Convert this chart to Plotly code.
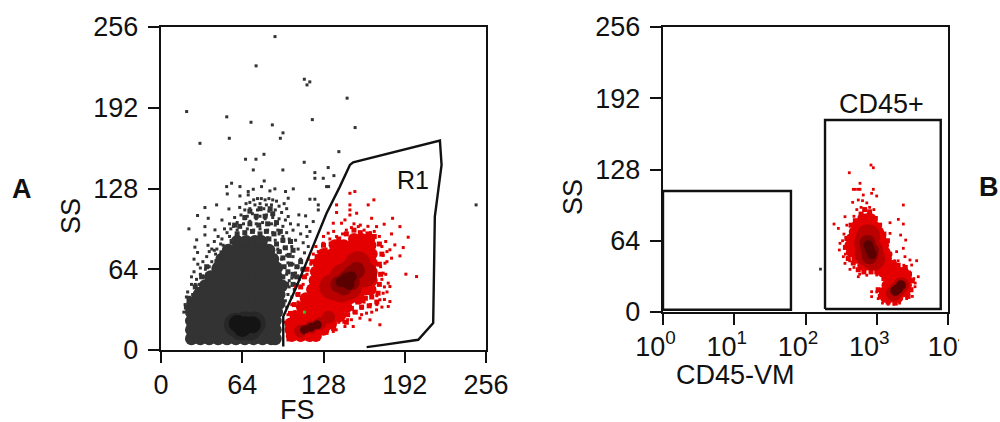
import plotly.graph_objects as go

# ---------- Panel A (FS / SS, linear 0-256) ----------
gray_rows = [
 (9,[24,31,38,45,52,59,66,73,80,87,90]),
 (16,[24,31,38,45,52,59,66,73,80,87,90]),
 (23,[24,31,38,45,52,59,66,73,80,87,90]),
 (30,[24,31,38,45,52,59,66,73,80,87,91]),
 (37,[25,32,39,46,53,60,67,74,81,88,93]),
 (44,[30,37,44,51,58,65,72,79,86,93]),
 (51,[35,42,49,56,63,70,77,84,91,95]),
 (58,[39,46,53,60,67,74,81,88,91]),
 (65,[45,52,59,66,73,80,87,91]),
 (72,[48,55,62,69,76,83,88]),
 (79,[53,60,67,74,81,85]),
 (86,[60,67,74,79]),
]
gray_edge = [
 (96,58),(100,62),(104,60),(97,66),(102,68),(107,66),(96,73),(101,75),(93,78),(98,81),(104,79),(91,84),(96,87),
 (102,86),(85,88),(89,92),(94,94),(83,94),(78,92),(72,94),(66,93),(60,92),(56,86),(54,80),(62,98),(70,100),(77,99),
 (84,100),(91,101),(58,99),(66,105),(75,106),(82,106),(88,108),(48,77),(44,70),(42,64),(40,60),(36,66),(32,58),
 (34,52),(30,48),(27,50),(26,43),(22,41),(20,34),(107,58),(110,70),(112,64),(99,52),(104,52),(86,112),(78,112),(70,110),
]
gray_halo = [(59,20),(66,21),(73,21),(63,17),(70,17)]
gray_core = [(60,21),(66,20),(72,20),(64,17)]
gray_sparse = [
 (89.8,248.4),(74.9,225.2),(112.9,214.6),(117.2,212.5),(115,210.1),(146.6,199.6),(20.2,189),
 (51.8,184.8),(70.9,180.5),(87.7,178.4),(119.2,182.6),(152.9,176.3),(96.1,172.1),(53.8,167.8),
 (94,167.8),(30.7,163.8),(81.1,155.1),(66.6,151.2),(74.8,151.2),(140.1,157.2),(112.8,148.8),
 (72.7,142.7),(96,142.7),(131.7,144.6),(121.2,140.6),(121.2,136.1),(127.8,136.1),(136.2,138.2),
 (81.3,134),(55.6,132.2),(51.7,129.5),(62.2,129.5),(52.2,123.7),(68.7,125.6),(72.7,127.4),
 (79.2,129.5),(85.8,126.1),(89.7,127.7),(98.1,125.6),(104.2,127.7),(130.4,129.5),(132,129.5),
 (117.3,119.5),(121.2,119.5),(62.2,122.1),(68.7,122.9),(43.8,115),(34.6,112.9),(53.5,111.8),
 (28.8,106.6),(37.2,104.4),(22,96),(34.6,97.8),(28.1,87.3),(26.7,81.5),(28.8,77.3),(34.6,91.2),
 (42.5,95.2),(123.9,115),(123.9,111),(108.6,107.1),(113.9,106.3),(100.2,120.3),(119.9,101.8),
 (114.7,97.8),(117.3,93.9),(108.1,99.2),(100.2,105.8),(248.2,115),
 (73,119),(76,120),(79,120),(82,119),(85,120),(88,119),(91,118),(70,117),(67,116),(74,115),
 (78,116),(83,115),(87,115),(93,114),(97,116),(62,113),(66,111),(70,112),(76,111),(81,112),
 (85,110),(90,111),(95,109),(99,112),(63,107),(68,106),(72,108),(78,106),(83,107),(88,105),
 (93,104),(98,103),(58,105),(48,103),(54,100),(60,101),(65,100),(70,102),(75,100),(80,101),
 (85,100),(90,99),(96,98),(102,100),(50,96),(55,96),(60,95),(68,96),(73,95),(78,96),(84,95),
 (88,93),(93,92),(99,93),(104,95),(110,92),(115,90),(45,90),(42,86),(48,88),(54,90),(84,89),
 (90,87),(96,86),(101,88),(106,87),(112,85),(116,82),(37,83),(44,80),(49,83),(92,80),(97,81),
 (103,82),(108,80),(113,77),(36,74),(40,70),(43,76),(47,72),(99,75),(104,74),(110,72),(104,68),
 (108,66),(100,69),(111,64),(106,61),(103,57),(109,56),(26,72),(29,68),(35,64),(31,60),(26,62),
 (38,66),(28,56),(24,52),(21,46),(25,44),(20,42),(22,38),(30,52),(33,46),(28,47),(34,58),
 (101,50),(105,48),(100,44),(103,42),(98,39),(99,34),(19,36),(18,30),(41,64),(106,52),
 (40,80),(38,78),(33,70),(31,65),(24,58),(27,52),(95,72),(97,66),(99,60),(101,55),(94,78),
 (96,90),(92,95),(87,100),(82,104),(75,104),(66,104),(57,98),(52,93),(47,84),(42,79),(105,58),
]

red_rows = [
 (11,[103,110,117,122]),
 (16,[102,109,116,123,128]),
 (21,[102,109,116,123,130,134]),
 (27,[106,113,120,127,134,141]),
 (34,[111,118,125,132,139,146]),
 (41,[114,121,128,135,142,149,156]),
 (48,[119,126,133,140,147,154,161,165]),
 (55,[121,128,135,142,149,156,163,166]),
 (62,[122,129,136,143,150,157,164,166]),
 (69,[124,131,138,145,152,159,166]),
 (76,[128,135,142,149,156,163,166]),
 (83,[137,144,151,158,165]),
 (88,[152,158,164]),
]
red_edge = [
 (146,92),(152,95),(157,93),(163,92),(168,90),(140,88),(134,84),(128,83),(123,74),(119,70),(115,64),(113,58),
 (110,50),(108,44),(105,36),(102,29),(150,33),(155,38),(161,41),(166,42),(171,45),(172,52),(173,60),(172,68),
 (174,76),(172,84),(147,28),(153,30),(140,24),(146,22),(136,17),(130,14),(124,12),(158,34),(164,35),(170,38),
]
red_halo = [(143,58),(155,68),(135,50),(160,60),(148,50),(150,62),(142,48)]
red_inner = [(146,56),(150,60),(140,52),(154,63),(144,50),(150,54)]
red_core = [(146,57),(150,58),(142,54),(148,52)]
red_tail_mid = [(110,15),(118,18),(125,21),(132,26)]
red_tail_core = [(113,16),(118,18),(123,20)]
red_sparse = [
 (148.8,124.2),(152.7,125.6),(167.7,119),(163.2,115),(138.3,115),(138.3,109),(148.8,115),(148.8,111),
 (148.8,107),(154.1,108.4),(182.4,104.4),(165.9,104.4),(175.8,99.7),(188.2,97.8),(144.9,103.1),
 (135.7,100.5),(142.2,100.5),(155.4,97.8),(169.8,97.8),(181.6,92),(194.7,89.4),(184.2,83.3),
 (190.8,81.2),(180.3,79.4),(188.2,74.6),(181.6,72.8),(192.9,60.1),(201.3,58.2),(176.4,68.8),
 (131.7,92.6),(138.3,89.9),(127.8,84.6),(123.9,78),(175,60.9),(179,53),(180.3,50.3),(180.3,38.4),
 (179,34.5),(172.4,39.8),(169.8,31.8),(161.9,29.2),(164.6,23.9),(172.4,20),(151.4,18.6),(156.7,25.2),
 (144.9,18.6),(135.7,14.7),(106.8,9.4),(114.7,12),(125.2,13.4),(175,45),(140,22),(147,24),(152,30),
 (158,33),(165,36),(170,43),(176,50),(174,56),(173,66),(175,75),(174,82),(172,90),(160,95),(165,93),
 (143,92),(140,84),(130,80),(125,72),(118,68),(115,60),(112,52),(107,44),(103,36),(100,28),(98,22),
 (150,97),(146,95),(105,30),(108,38),(100,8),(110,8),(118,8),(132,17),(138,16),(146,28),(160,38),
 (152,100),(157,99),(163,98),(168,94),(136,94),(133,88),(128,90),(122,82),(120,76),(116,72),(113,64),
 (110,58),(106,50),(170,36),(166,30),(158,28),(150,24),(144,22),(136,20),(128,14),(121,10),(176,40),
 (174,34),(178,46),(177,60),(178,70),(178,78),(177,86),
]
green_pts = [(113,30)]
r1_gate = [(96.3,2.8),(96.3,26.6),(106.8,50.3),(122.6,89.9),(130.4,108.4),(140.9,129.5),(148.8,146.7),
           (151.4,148.8),(175,154.6),(219.7,166),(221,146.7),(215.7,105.8),(214.4,21.3),(202.6,8.1),
           (175,4.1),(162,2.3)]
linear_ticks = [0,64,128,192,256]

# ---------- Panel B (log10 CD45-VM / SS) ----------
b_rows = [
 (84,[2.80,2.86,2.92]),
 (78,[2.72,2.78,2.84,2.90,2.96]),
 (72,[2.68,2.74,2.80,2.86,2.92,2.98,3.03]),
 (66,[2.64,2.70,2.76,2.82,2.88,2.94,3.0,3.06]),
 (60,[2.62,2.68,2.74,2.80,2.86,2.92,2.98,3.04,3.10]),
 (54,[2.64,2.70,2.76,2.82,2.88,2.94,3.0,3.06,3.12]),
 (48,[2.72,2.78,2.84,2.90,2.96,3.02,3.08,3.14]),
 (42,[2.80,2.86,2.92,2.98,3.04,3.10,3.16,3.22]),
 (36,[3.08,3.16,3.24,3.32,3.38]),
 (30,[3.18,3.24,3.30,3.36,3.42]),
 (24,[3.14,3.20,3.26,3.32,3.38,3.42]),
 (18,[3.10,3.16,3.22,3.28,3.34,3.40]),
 (13,[3.12,3.18,3.24,3.30]),
]
b_edge = [(2.83,92),(2.9,90),(2.78,88),(2.7,82),(2.64,78),(2.98,84),(3.04,78),(3.1,70),(3.15,64),(2.58,66),(2.56,58),
          (2.6,48),(2.67,44),(2.74,38),(2.82,36),(2.92,36),(3.0,36),(3.18,52),(3.24,44),(3.3,42),(3.4,40),(3.46,34),
          (3.5,28),(3.48,20),(3.44,14),(3.05,14),(3.02,20),(3.16,9),(3.26,8),(3.1,30)]
b_halo = [(2.85,62),(2.92,55),(2.88,68),(2.95,48),(2.86,52)]
b_inner = [(2.87,62),(2.92,55),(2.9,50),(2.88,56)]
b_core = [(2.9,56),(2.88,60),(2.93,52)]
b_tail_mid = [(3.28,20),(3.34,24),(3.24,17)]
b_tail_core = [(3.26,19),(3.3,21),(3.34,24)]
b_sparse = [
 (2.919,132),(2.952,129.6),(2.615,125.1),(2.765,115.6),(2.671,110.2),(2.7,110.2),(2.74,110.2),(2.765,110.2),
 (2.952,110.2),(2.928,106.6),(2.999,104.2),(2.811,105.1),(2.662,98.5),(2.741,100.6),(3.373,96.1),(3.303,83.2),
 (3.373,79),(3.186,80.2),(2.4,79),(2.461,75.1),(2.554,85.6),(3.335,69.1),(3.406,64.6),(3.373,57.2),(3.279,54.2),
 (2.531,49.7),(2.554,43.7),(2.624,38.3),(3.56,46.1),(3.466,46.7),(3.583,31.7),(3.537,22.7),(2.928,13.8),
 (2.928,18.2),(2.741,31.7),(3.0,33.2),(3.396,49.7),(3.49,42.2),(2.484,61.7),(2.475,55.7),(3.186,70.6),
 (2.80,100),(2.86,98),(2.9,94),(2.78,94),(2.72,92),(2.96,92),(2.68,86),(2.58,78),(2.54,70),(2.52,64),
 (2.56,52),(2.62,46),(2.68,40),(2.76,34),(2.86,33),(3.05,36),(3.2,52),(3.25,46),(3.3,46),(3.38,42),
 (3.46,36),(3.52,30),(3.54,26),(3.5,14),(3.42,12),(3.0,18),(3.02,12),(3.08,8),(3.16,7),(3.24,7),(3.32,8),
]
b_gray = [(2.21,38.5)]
cd45_neg_gate = [(0,2),(1.796,2),(1.796,108.7),(0,108.7)]
cd45_pos_gate = [(2.274,2.7),(3.898,2.7),(3.898,172.4),(2.274,172.4)]
log_ticks = [0,1,2,3,4]

FONT = "Liberation Sans"
INK = "#111111"
GRAY, GRAY_H, GRAY_C = "#333333", "#272727", "#141414"
RED, RED_H, RED_I, RED_C = "#e40000", "#bb0000", "#8a0000", "#5a0000"

def expand(rows):
    return [x for y, xs in rows for x in xs], [y for y, xs in rows for x in xs]
def cols(pairs):
    return [p[0] for p in pairs], [p[1] for p in pairs]

fig = go.Figure()

def add(xs, ys, color, size, axes, symbol="circle", log=False, mode="markers", line=None):
    if log:
        xs = [10 ** v for v in xs]
    kw = dict(x=xs, y=ys, xaxis="x" + axes, yaxis="y" + axes, showlegend=False, hoverinfo="skip", mode=mode)
    if mode == "markers":
        kw["marker"] = dict(color=color, size=size, symbol=symbol, line=dict(width=0))
    else:
        kw["line"] = dict(color=color, width=line)
    fig.add_trace(go.Scatter(**kw))

# Panel A
add(*expand(gray_rows), GRAY, 13, "")
add(*cols(gray_edge), GRAY, 5, "", "square")
add(*cols(gray_halo), GRAY_H, 24, "")
add(*cols(gray_core), GRAY_C, 17, "")
add(*cols(gray_sparse), GRAY, 3, "", "square")
add(*expand(red_rows), RED, 12, "")
add(*cols(red_edge), RED, 5, "", "square")
add(*cols(red_halo), RED_H, 26, "")
add(*cols(red_inner), RED_I, 17, "")
add(*cols(red_core), RED_C, 11, "")
add(*cols(red_tail_mid), RED_H, 13, "")
add(*cols(red_tail_core), RED_C, 9, "")
add(*cols(red_sparse), RED, 3, "", "square")
add(*cols(green_pts), "#22cc22", 3, "", "square")
gx, gy = cols(r1_gate)
add(gx, gy, INK, 0, "", mode="lines", line=2.4)

# Panel B
add(*expand(b_rows), RED, 10.5, "2", log=True)
add(*cols(b_edge), RED, 5, "2", "square", log=True)
add(*cols(b_halo), RED_H, 24, "2", log=True)
add(*cols(b_inner), RED_I, 16, "2", log=True)
add(*cols(b_core), RED_C, 10, "2", log=True)
add(*cols(b_tail_mid), RED_H, 16, "2", log=True)
add(*cols(b_tail_core), RED_C, 10, "2", log=True)
add(*cols(b_sparse), RED, 2.8, "2", "square", log=True)
add(*cols(b_gray), GRAY, 2.8, "2", "square", log=True)
for gate in (cd45_neg_gate, cd45_pos_gate):
    gx, gy = cols(gate + gate[:1])
    add(gx, gy, INK, 0, "2", log=True, mode="lines", line=2.4)

axis_common = dict(showgrid=False, zeroline=False, showline=True, linecolor=INK, linewidth=2.4, mirror=True,
                   automargin=False, ticks="outside", ticklen=11, tickwidth=2, tickcolor=INK,
                   tickfont=dict(family=FONT, size=27, color=INK))
H = 422.0
W = 1000.0

def label(text, px, py, size=27, angle=0, bold=False):
    return dict(text=f"<b>{text}</b>" if bold else text, x=px / W, y=(H - py) / H, xref="paper", yref="paper",
                xanchor="center", yanchor="middle", showarrow=False, textangle=angle,
                font=dict(family=FONT, size=size, color=INK))

fig.update_layout(
    width=1000, height=422, margin=dict(l=0, r=0, t=0, b=0), paper_bgcolor="white", plot_bgcolor="white",
    xaxis=dict(domain=[161/W, 486/W], range=[0, 256], tickvals=linear_ticks, anchor="y",
               ticklabelstandoff=-2, **axis_common),
    yaxis=dict(domain=[(H-350)/H, (H-27)/H], range=[0, 256], tickvals=linear_ticks, anchor="x",
               ticklabelstandoff=4, **axis_common),
    xaxis2=dict(domain=[663/W, 948/W], type="log", range=[0, 4], anchor="y2",
                tickvals=[10 ** t for t in log_ticks],
                ticktext=[f"10<sup>{t}</sup>&nbsp;&nbsp;" for t in log_ticks[:-1]] + ["10<sup>4</sup>"],
                ticklabelstandoff=-2, **axis_common),
    yaxis2=dict(domain=[(H-312)/H, (H-27)/H], range=[0, 256], tickvals=linear_ticks, anchor="x2",
                ticklabelstandoff=4, **axis_common),
    annotations=[
        label("FS", 297, 410), label("SS", 71, 216, angle=-90),
        label("CD45-VM", 735, 375), label("SS", 573, 197, angle=-90),
        label("R1", 413, 180, size=25), label("CD45+", 881, 104),
        label("A", 22, 189, size=27, bold=True), label("B", 989, 187, size=27, bold=True),
    ],
    shapes=[dict(type="rect", xref="paper", yref="paper", x0=959/W, x1=978/W, y0=(H-362)/H, y1=(H-325)/H,
                 fillcolor="white", line=dict(width=0), layer="above")],
)
fig.write_html("out.html", config=dict(displayModeBar=False),
               post_script="document.body.style.margin='0';document.body.style.overflow='hidden';")
